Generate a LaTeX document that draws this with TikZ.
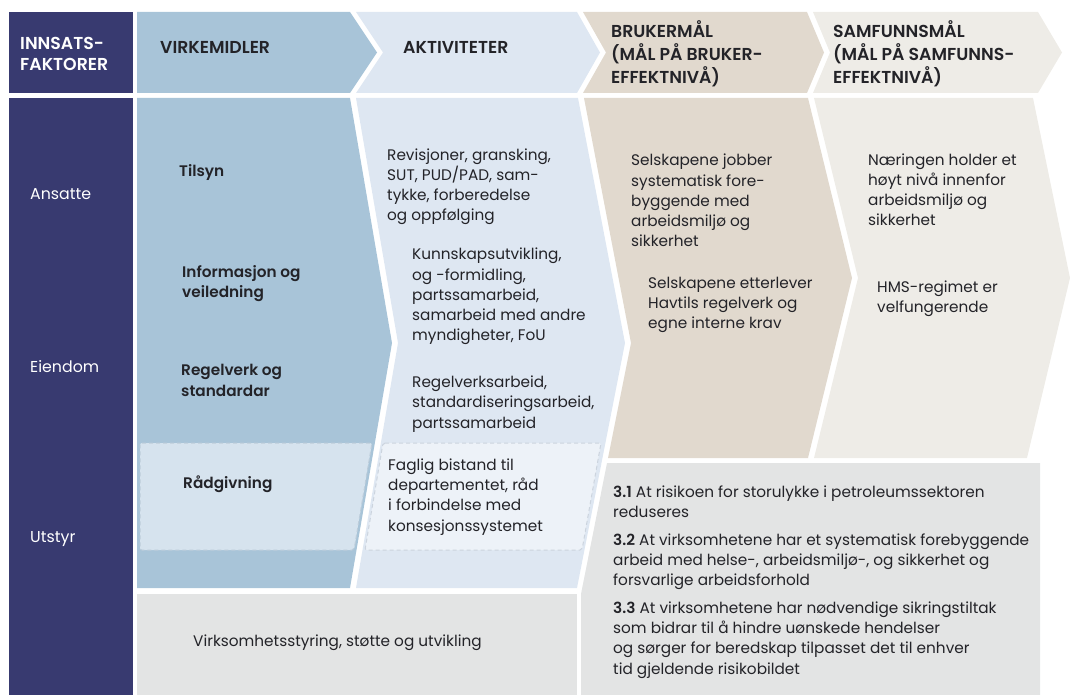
\documentclass[tikz,border=0pt]{standalone}
\usepackage{fontspec}
\setmainfont{Poppins}[BoldFont={Poppins SemiBold}]
\usepackage{xcolor}
\usepackage{tikz}
\usetikzlibrary{positioning,calc}

\definecolor{innsats}{RGB}{56,58,112}
\definecolor{virk}{RGB}{168,196,216}
\definecolor{akt}{RGB}{222,231,242}
\definecolor{bruk}{RGB}{225,217,206}
\definecolor{samf}{RGB}{238,236,231}
\definecolor{graa}{RGB}{227,228,228}
\definecolor{radfill}{RGB}{214,227,238}
\definecolor{radline}{RGB}{188,204,218}
\definecolor{fagfill}{RGB}{237,242,248}
\definecolor{fagline}{RGB}{204,212,222}
\definecolor{tekst}{RGB}{35,35,40}

% base anchor of a multi-line node sits on its last line
\tikzset{
  head/.style={anchor=base west, align=left, inner sep=0pt, text=tekst,
    font=\fontsize{17.3}{23}\selectfont\bfseries},
  lbl/.style={anchor=base west, align=left, inner sep=0pt, text=tekst,
    font=\fontsize{15.3}{20.3}\selectfont\bfseries},
  body/.style={anchor=base west, align=left, inner sep=0pt, text=tekst,
    font=\fontsize{15.3}{20.3}\selectfont},
  side/.style={anchor=base west, inner sep=0pt, text=white,
    font=\fontsize{15.8}{20}\selectfont},
  dashbox/.style={dashed, dash pattern=on 4pt off 3pt, line width=1pt, rounded corners=2pt}
}

\begin{document}
\begin{tikzpicture}[x=1pt,y=-1pt]
    \useasboundingbox (0,0) rectangle (1072,695);

    % Header row
    \fill [innsats] (9,12) rectangle (133,93);
    \fill [virk] (137,12) -- (350,12) -- (377,52.5) -- (350,93) -- (137,93) -- cycle;
    \fill [akt] (356,12) -- (577,12) -- (600,52.5) -- (577,93) -- (356,93) -- (383,52.5) -- cycle;
    \fill [bruk] (583,12) -- (807,12) -- (824,52.5) -- (807,93) -- (583,93) -- (606,52.5) -- cycle;
    \fill [samf] (813,12) -- (1038,12) -- (1062,52.5) -- (1038,93) -- (813,93) -- (830,52.5) -- cycle;

    % Body columns
    \fill [innsats] (9,98) rectangle (133,695);
    \fill [virk] (137,98) -- (350,98) -- (392,343) -- (350,588) -- (137,588) -- cycle;
    \fill [akt] (356,98) -- (578,98) -- (625,343) -- (577,588) -- (356,588) -- (398,343) -- cycle;
    \fill [bruk] (584,98) -- (808,98) -- (852,278) -- (808,458) -- (608,458) -- (631,343) -- cycle;
    \fill [samf] (814,98) -- (1033,98) -- (1070,278) -- (1027,458) -- (814,458) -- (858,278) -- cycle;

    % Bottom panels
    \fill [graa] (607,463) -- (1040,463) -- (1040,695) -- (581,695) -- (581,594) -- cycle;
    \fill [graa] (137,594) rectangle (577,695);

    % Dashed boxes
    \filldraw [dashbox, fill=radfill, draw=radline] (140,443) -- (372,443) -- (354,550) -- (140,550) -- cycle;
    \filldraw [dashbox, fill=fagfill, draw=fagline] (383,443) -- (601,443) -- (582,550) -- (365,550) -- cycle;

    % Headings
    \node [head, text=white, font=\fontsize{17.3}{21}\selectfont\bfseries] (innsats) at (20,71) {INNSATS-\\FAKTORER};
    \node [head] (virkemidler) at (160,54) {VIRKEMIDLER};
    \node [head] (aktiviteter) at (403,54) {AKTIVITETER};
    \node [head] (brukermal) at (611,84) {BRUKERMÅL\\(MÅL PÅ BRUKER-\\EFFEKTNIVÅ)};
    \node [head] (samfunnsmal) at (833,84) {SAMFUNNSMÅL\\(MÅL PÅ SAMFUNNS-\\EFFEKTNIVÅ)};

    % Innsatsfaktorer
    \node [side] (ansatte) at (30,200) {Ansatte};
    \node [side] (eiendom) at (30,372) {Eiendom};
    \node [side] (utstyr) at (30,542) {Utstyr};

    % Virkemidler
    \node [lbl] (tilsyn) at (179,177) {Tilsyn};
    \node [lbl] (informasjon) at (182,298) {Informasjon og\\veiledning};
    \node [lbl] (regelverk) at (181,396) {Regelverk og\\standardar};
    \node [lbl] (radgivning) at (183,488) {Rådgivning};

    % Aktiviteter
    \node [body] (revisjoner) at (387,221) {Revisjoner, gransking,\\SUT, PUD/PAD, sam-\\tykke, forberedelse\\og oppfølging};
    \node [body] (kunnskap) at (412,341) {Kunnskapsutvikling,\\og -formidling,\\partssamarbeid,\\samarbeid med andre\\myndigheter, FoU};
    \node [body] (regelarbeid) at (412,428) {Regelverksarbeid,\\standardiseringsarbeid,\\partssamarbeid};
    \node [body] (faglig) at (388,531) {Faglig bistand til\\departementet, råd\\i forbindelse med\\konsesjonssystemet};

    % Brukermål
    \node [body] (jobber) at (631,247) {Selskapene jobber\\systematisk fore-\\byggende med\\arbeidsmiljø og\\sikkerhet};
    \node [body] (etterlever) at (648,329) {Selskapene etterlever\\Havtils regelverk og\\egne interne krav};

    % Samfunnsmål
    \node [body] (naeringen) at (868,226) {Næringen holder et\\høyt nivå innenfor\\arbeidsmiljø og\\sikkerhet};
    \node [body] (hms) at (877,313) {HMS-regimet er\\velfungerende};

    % Mål 3.1--3.3
    \node [body] (maal) at (613,674) {\textbf{3.1} At risikoen for storulykke i petroleumssektoren\\reduseres\\[7pt]
      \textbf{3.2} At virksomhetene har et systematisk forebyggende\\arbeid med helse-, arbeidsmiljø-, og sikkerhet og\\forsvarlige arbeidsforhold\\[7pt]
      \textbf{3.3} At virksomhetene har nødvendige sikringstiltak\\som bidrar til å hindre uønskede hendelser\\og sørger for beredskap tilpasset det til enhver\\tid gjeldende risikobildet};

    % Virksomhetsstyring
    \node [body] (styring) at (193,646) {Virksomhetsstyring, støtte og utvikling};
\end{tikzpicture}
\end{document}
